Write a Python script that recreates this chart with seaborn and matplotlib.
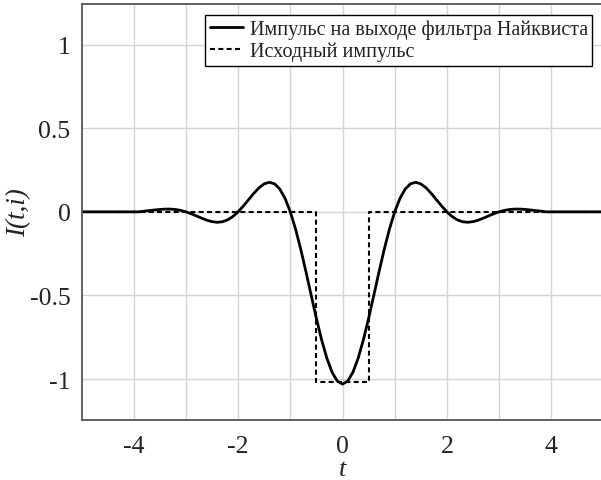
import matplotlib
matplotlib.use("Agg")
import matplotlib.pyplot as plt
import seaborn as sns
import pandas as pd

# --- data ---
t_filtered = [-5.0, -3.9,
              -3.8, -3.7, -3.6, -3.5, -3.4, -3.3, -3.2, -3.1, -3.0,
              -2.9, -2.8, -2.7, -2.6, -2.5, -2.4, -2.3, -2.2, -2.1, -2.0,
              -1.9, -1.8, -1.7, -1.6, -1.5, -1.4, -1.3, -1.2, -1.1, -1.0,
              -0.9, -0.8, -0.7, -0.6, -0.5, -0.4, -0.3, -0.2, -0.1, 0.0,
              0.1, 0.2, 0.3, 0.4, 0.5, 0.6, 0.7, 0.8, 0.9, 1.0,
              1.1, 1.2, 1.3, 1.4, 1.5, 1.6, 1.7, 1.8, 1.9, 2.0,
              2.1, 2.2, 2.3, 2.4, 2.5, 2.6, 2.7, 2.8, 2.9, 3.0,
              3.1, 3.2, 3.3, 3.4, 3.5, 3.6, 3.7, 3.8,
              3.9, 5.0]
i_filtered = [0.0, 0.0,
              0.004, 0.0075, 0.0111, 0.0142, 0.0163, 0.0164, 0.0139, 0.0085, 0.0,
              -0.0112, -0.0242, -0.0376, -0.0498, -0.0587, -0.0625, -0.0593, -0.0479, -0.0280, 0.0,
              0.0344, 0.0724, 0.1103, 0.1435, 0.1673, 0.1767, 0.1672, 0.1357, 0.0800, 0.0,
              -0.1025, -0.2237, -0.3581, -0.4986, -0.6371, -0.7654, -0.8751, -0.9591, -1.0120, -1.030,
              -1.0120, -0.9591, -0.8751, -0.7654, -0.6371, -0.4986, -0.3581, -0.2237, -0.1025, 0.0,
              0.0800, 0.1357, 0.1672, 0.1767, 0.1673, 0.1435, 0.1103, 0.0724, 0.0344, 0.0,
              -0.0280, -0.0479, -0.0593, -0.0625, -0.0587, -0.0498, -0.0376, -0.0242, -0.0112, 0.0,
              0.0085, 0.0139, 0.0164, 0.0163, 0.0142, 0.0111, 0.0075, 0.004,
              0.0, 0.0]

t_source = [-5.0, -0.5, -0.5, 0.5, 0.5, 5.0]
i_source = [0.0, 0.0, -1.02, -1.02, 0.0, 0.0]

x_ticks = [-4, -2, 0, 2, 4]
x_tick_labels = ["-4", "-2", "0", "2", "4"]
x_minor = [-3, -1, 1, 3]
y_ticks = [-1, -0.5, 0, 0.5, 1]
y_tick_labels = ["-1", "-0.5", "0", "0.5", "1"]

label_filtered = "Импульс на выходе фильтра Найквиста"
label_source = "Исходный импульс"

df_f = pd.DataFrame({"t": t_filtered, "I": i_filtered})
df_s = pd.DataFrame({"t": t_source, "I": i_source})

sns.set_theme(style="whitegrid")
plt.rcParams["font.family"] = ["Liberation Serif", "DejaVu Serif"]
plt.rcParams["axes.unicode_minus"] = False

fig = plt.figure(figsize=(6.01, 4.81), dpi=100)
ax = fig.add_axes([81.5 / 601, 1 - 420.7 / 481, (603.5 - 81.5) / 601, (420.7 - 5.3) / 481])

sns.lineplot(data=df_f, x="t", y="I", ax=ax, color="black", linewidth=2.0,
             sort=False, estimator=None, label=label_filtered)
sns.lineplot(data=df_s, x="t", y="I", ax=ax, color="black", linewidth=1.5,
             sort=False, estimator=None, label=label_source, dashes=False)
ax.lines[1].set_dashes([2.4, 1.6])

ax.set_xlim(-5, 5)
ax.set_ylim(-1.243, 1.241)
ax.set_xticks(x_ticks)
ax.set_xticklabels(x_tick_labels)
ax.set_xticks(x_minor, minor=True)
ax.set_yticks(y_ticks)
ax.set_yticklabels(y_tick_labels)

ax.grid(True, which="both", color="#d4d4d4", linewidth=1.0)
ax.set_axisbelow(True)
ax.tick_params(axis="y", which="both", length=0, labelsize=18.5, pad=8, colors="#222222")
ax.tick_params(axis="x", which="both", length=0, labelsize=18.5, pad=11, colors="#222222")

for side in ["left", "bottom", "top", "right"]:
    ax.spines[side].set_color("#555555")
    ax.spines[side].set_linewidth(1.3)

ax.set_xlabel("t", fontsize=19, fontstyle="italic", labelpad=1, color="#222222")
ax.set_ylabel("I(t,i)", fontsize=19.5, fontstyle="italic", labelpad=-1, color="#222222")

leg = ax.legend(loc="upper right", fontsize=14.5, frameon=True, fancybox=False,
                edgecolor="black", framealpha=1.0, borderpad=0.22, labelspacing=0.12,
                handlelength=1.65, handletextpad=0.34, borderaxespad=0.55)
leg.get_frame().set_linewidth(1.0)
for txt in leg.get_texts():
    txt.set_color("#222222")

fig.savefig("out.png", dpi=100)
